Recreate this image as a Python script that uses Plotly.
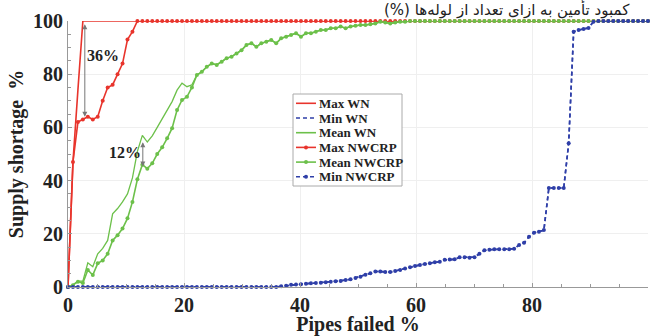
import plotly.graph_objects as go

# ---------------- data ----------------
n_pipes = 117  # number of failure steps (x axis in % of pipes failed)
pipes_failed = [100 * k / n_pipes for k in range(n_pipes + 1)]

max_nwcrp = [0, 47, 62, 63, 64, 63, 64, 70, 75, 76, 80, 84, 93, 96] + [100] * 104

max_wn = [0, 47, 74] + [100] * 115

mean_nwcrp = [0, 0.7, 2.0, 1.5, 6.4, 4.5, 8.9, 10, 12.5, 17.5,
              19.5, 22, 25.8, 32, 40.5, 46, 44.5, 46.5, 50, 52.5,
              55.9, 59.7, 66.5, 70.3, 71.5, 75, 79.7, 80.9, 82.8, 84,
              83.5, 84.7, 86, 86.6, 87.8, 89, 91, 91.6, 90.3, 91.6,
              92.2, 92.9, 91.6, 93.5, 94.1, 94.7, 95.4, 94.1, 95.4, 95.4,
              96, 96.6, 96.6, 97.3, 97.3, 97.9, 97.3, 97.9, 98.2, 98.5,
              98.5, 98.8, 99.1, 99.7, 99.4, 99.1, 99.4, 99.7, 99.7] + [100] * 49

mean_wn_head = [0, 0.8, 2.2, 2.2, 9.1, 7.6, 12.5, 14.5, 17.5, 27.5,
                29.5, 32, 35, 41, 51, 57, 54.5, 56.8, 60, 63.3,
                66.5, 69.7, 74, 76.6, 75.3, 76, 79.7]
mean_wn = mean_wn_head + mean_nwcrp[len(mean_wn_head):]

min_nwcrp = [0] * 43 + [
    0.3, 0.5, 0.8, 0.9, 1.0, 1.2, 1.4, 1.5, 1.6, 1.8,
    2.0, 2.2, 2.3, 2.6, 2.9, 3.4, 3.9, 4.6, 5.2, 5.8,
    5.8, 5.6, 5.6, 6.0, 6.4, 7.0, 7.4, 7.9, 8.3, 8.6,
    8.9, 9.3, 9.5, 10.2, 10.3, 10.4, 11.2, 11.2, 11.0, 11.2,
    12.5, 13.8, 14.0, 14.2, 14.2, 14.2, 14.2, 14.4, 15.8, 16.6,
    18.9, 20.4, 20.8, 21.4, 37.2, 37.2, 37.2, 37.2, 54, 96,
    96.6, 97, 97.4, 99.7] + [100] * 11

min_wn = list(min_nwcrp)

x_ticks = [0, 20, 40, 60, 80, 100]
y_ticks = [0, 20, 40, 60, 80, 100]

# ---------------- style ----------------
RED = "#e8342c"
GREEN = "#6cc04a"
BLUE = "#2f3fa8"
SERIF = "Liberation Serif, Times New Roman, serif"
DASH = "4px,3px"

series = [
    ("Max WN", max_wn, RED, None, False, 1.6),
    ("Min WN", min_wn, BLUE, DASH, False, 1.6),
    ("Mean WN", mean_wn, GREEN, None, False, 1.3),
    ("Max NWCRP", max_nwcrp, RED, None, True, 1.6),
    ("Mean NWCRP", mean_nwcrp, GREEN, None, True, 1.6),
    ("Min NWCRP", min_nwcrp, BLUE, DASH, True, 1.6),
]

FIG_W, FIG_H = 652, 336
# plot area in picture pixels
PLOT_L, PLOT_R, PLOT_T, PLOT_B = 68, 648, 21, 287

def px_x(p):
    return (p - PLOT_L) / (PLOT_R - PLOT_L)

def px_y(p):
    return (PLOT_B - p) / (PLOT_B - PLOT_T)

fig = go.Figure()
for name, ys, color, dash, has_markers, width in series:
    fig.add_trace(go.Scatter(
        x=pipes_failed, y=ys, name=name,
        mode="lines+markers" if has_markers else "lines",
        line=dict(color=color, width=width, dash=dash),
        marker=dict(size=4, color=color),
        cliponaxis=False, showlegend=False))

# ---- compact legend box ----
fig.add_shape(type="rect", xref="paper", yref="paper",
              x0=px_x(293), x1=px_x(402), y0=px_y(186), y1=px_y(94),
              line=dict(color="#aaa", width=1), fillcolor="white", layer="above")
for i, (name, ys, color, dash, has_markers, width) in enumerate(series):
    cy = 103.3 + 14.7 * i
    fig.add_shape(type="line", xref="paper", yref="paper",
                  x0=px_x(296), x1=px_x(316), y0=px_y(cy), y1=px_y(cy),
                  line=dict(color=color, width=1.6, dash=dash), layer="above")
    if has_markers:
        fig.add_shape(type="circle", xref="paper", yref="paper",
                      x0=px_x(304), x1=px_x(308), y0=px_y(cy + 2), y1=px_y(cy - 2),
                      line=dict(color=color, width=0), fillcolor=color, layer="above")
    fig.add_annotation(x=px_x(317), y=px_y(cy), xref="paper", yref="paper",
                       xanchor="left", yanchor="middle", text=name, showarrow=False,
                       font=dict(family=SERIF, size=13, color="#222", weight="bold"))

# double-headed arrows with labels
for xa, y0, y1 in [(2.9, 99.3, 64.0), (12.9, 55.0, 45.3)]:
    fig.add_annotation(x=xa, y=y1, ax=xa, ay=y0, xref="x", yref="y", axref="x", ayref="y",
                       text="", showarrow=True, arrowhead=2, startarrowhead=2,
                       arrowside="end+start", arrowsize=1, arrowwidth=1, arrowcolor="#777")
fig.add_annotation(x=6.0, y=87.2, xref="x", yref="y", text="36%", showarrow=False,
                   font=dict(family=SERIF, size=16, color="#222", weight="bold"))
fig.add_annotation(x=9.8, y=50.4, xref="x", yref="y", text="12%", showarrow=False,
                   font=dict(family=SERIF, size=16, color="#222", weight="bold"))

# Persian caption at the very top (RLM keeps the parenthesis at the left end)
fig.add_annotation(x=px_x(632), y=px_y(9), xref="paper", yref="paper",
                   xanchor="right", yanchor="middle",
                   text="کمبود تأمین به ازای تعداد از لوله‌ها (%)\u200f", showarrow=False,
                   font=dict(family="DejaVu Sans", size=15, color="#222"))

axis_common = dict(
    automargin=False,
    showline=True, linecolor="#999", linewidth=1, mirror=False,
    ticks="inside", ticklen=4, tickcolor="#999",
    showgrid=True, gridcolor="#efefef", gridwidth=1, zeroline=False,
    tickfont=dict(family=SERIF, size=20, color="#222", weight="bold"),
    minor=dict(dtick=5, ticks="inside", ticklen=3, tickcolor="#999", showgrid=False),
)

fig.update_xaxes(range=[0, 100], tickvals=x_ticks, ticktext=[str(v) for v in x_ticks],
                 title=dict(text="Pipes failed %", standoff=5,
                            font=dict(family=SERIF, size=20, color="#222", weight="bold")),
                 **axis_common)
fig.update_yaxes(range=[0, 100], tickvals=y_ticks, ticktext=[str(v) for v in y_ticks],
                 title=dict(text="Supply shortage  %", standoff=4,
                            font=dict(family=SERIF, size=20, color="#222", weight="bold")),
                 **axis_common)

fig.update_layout(
    width=FIG_W, height=FIG_H,
    margin=dict(l=PLOT_L, r=FIG_W - PLOT_R, t=PLOT_T, b=FIG_H - PLOT_B, autoexpand=False),
    paper_bgcolor="white", plot_bgcolor="white",
    showlegend=False,
)

# remove the default page margin so the figure fills the window exactly
fig.write_html("out.html",
               config={"displayModeBar": False},
               post_script="document.body.style.margin='0';document.body.style.overflow='hidden';")
